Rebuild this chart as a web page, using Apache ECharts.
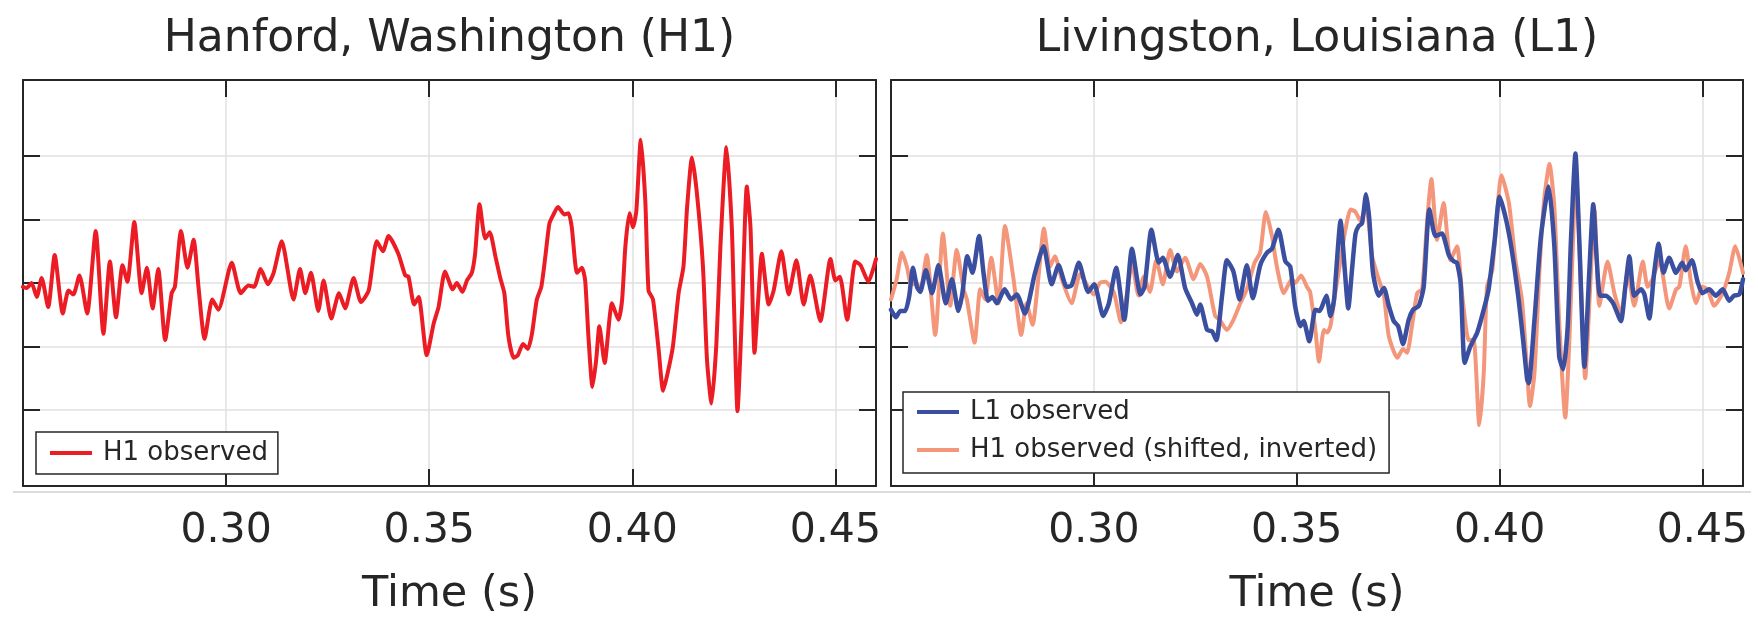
<!DOCTYPE html>
<html>
<head>
<meta charset="utf-8">
<script src="https://cdn.jsdelivr.net/npm/echarts@6/dist/echarts.min.js"></script>
<style>
html,body{margin:0;padding:0;background:#fff;}
#chart{width:1758px;height:629px;}
</style>
</head>
<body>
<div id="chart"></div>
<script>
// ---- data (strain, arbitrary units x1e-21) ----
const panelTitles = ['Hanford, Washington (H1)', 'Livingston, Louisiana (L1)'];
const xAxisTitle = 'Time (s)';
const xTicks = [0.30, 0.35, 0.40, 0.45];
const yTicks = [-1.0, -0.5, 0.0, 0.5, 1.0];
const seriesNames = ['H1 observed', 'L1 observed', 'H1 observed (shifted, inverted)'];

const h1Time = [0.2500,0.2509,0.2521,0.2534,0.2546,0.2562,0.2578,0.2598,0.2612,0.2624,
0.2639,0.2658,0.2679,0.2698,0.2714,0.2729,0.2745,0.2757,0.2774,0.2792,
0.2805,0.2819,0.2833,0.2850,0.2866,0.2874,0.2889,0.2905,0.2920,0.2932,
0.2947,0.2966,0.2981,0.3014,0.3036,0.3055,0.3069,0.3085,0.3103,0.3117,
0.3137,0.3166,0.3182,0.3195,0.3209,0.3227,0.3240,0.3259,0.3278,0.3293,
0.3314,0.3332,0.3351,0.3371,0.3386,0.3400,0.3424,0.3441,0.3449,0.3463,
0.3474,0.3494,0.3511,0.3523,0.3539,0.3558,0.3568,0.3582,0.3593,0.3605,
0.3613,0.3624,0.3638,0.3649,0.3663,0.3675,0.3685,0.3695,0.3708,0.3718,
0.3731,0.3743,0.3753,0.3765,0.3776,0.3786,0.3796,0.3806,0.3817,0.3833,
0.3843,0.3851,0.3864,0.3876,0.3884,0.3892,0.3902,0.3911,0.3919,0.3932,
0.3950,0.3966,0.3975,0.3983,0.3993,0.4002,0.4010,0.4021,0.4032,0.4040,
0.4051,0.4065,0.4076,0.4087,0.4100,0.4114,0.4126,0.4135,0.4147,0.4159,
0.4174,0.4184,0.4195,0.4207,0.4217,0.4232,0.4245,0.4251,0.4259,0.4270,
0.4282,0.4291,0.4301,0.4310,0.4319,0.4336,0.4348,0.4367,0.4385,0.4404,
0.4422,0.4438,0.4463,0.4488,0.4500,0.4511,0.4529,0.4549,0.4562,0.4581,
0.4600];
const h1Strain = [-0.03,-0.04,0.00,-0.11,0.04,-0.19,0.22,-0.24,-0.06,-0.09,
0.06,-0.24,0.41,-0.40,0.17,-0.27,0.14,0.01,0.48,-0.08,
0.12,-0.20,0.11,-0.45,-0.08,-0.03,0.41,0.12,0.34,-0.03,
-0.44,-0.13,-0.21,0.16,-0.08,-0.02,-0.03,0.11,-0.01,0.08,
0.33,-0.13,0.11,-0.08,0.08,-0.22,0.02,-0.28,-0.08,-0.20,
0.04,-0.15,-0.06,0.33,0.25,0.37,0.23,0.06,0.05,-0.17,
-0.11,-0.57,-0.32,-0.19,0.09,-0.05,0.00,-0.07,0.02,0.08,
0.23,0.62,0.35,0.40,0.21,0.04,-0.08,-0.42,-0.59,-0.57,
-0.48,-0.52,-0.40,-0.13,-0.03,0.21,0.47,0.54,0.60,0.54,
0.55,0.44,0.08,0.12,0.02,-0.42,-0.82,-0.61,-0.34,-0.63,
-0.16,-0.29,-0.13,0.29,0.55,0.44,0.57,1.13,0.65,-0.06,
-0.13,-0.53,-0.85,-0.71,-0.50,-0.08,0.13,0.60,0.99,0.71,
0.13,-0.61,-0.95,-0.48,0.29,1.07,0.44,-0.24,-1.01,-0.24,
0.76,0.44,-0.55,-0.13,0.23,-0.17,-0.06,0.25,-0.09,0.18,
-0.17,0.06,-0.30,0.19,0.02,0.05,-0.29,0.17,0.14,0.01,
0.19];

const l1Time = [0.2500,0.2512,0.2523,0.2535,0.2545,0.2554,0.2564,0.2572,0.2586,0.2601,
0.2617,0.2635,0.2650,0.2666,0.2676,0.2688,0.2701,0.2717,0.2728,0.2739,
0.2750,0.2761,0.2780,0.2796,0.2810,0.2830,0.2855,0.2876,0.2896,0.2913,
0.2933,0.2945,0.2963,0.2986,0.3001,0.3023,0.3037,0.3055,0.3075,0.3094,
0.3115,0.3125,0.3142,0.3160,0.3170,0.3188,0.3207,0.3225,0.3242,0.3254,
0.3262,0.3279,0.3291,0.3302,0.3316,0.3328,0.3344,0.3359,0.3377,0.3392,
0.3410,0.3427,0.3439,0.3455,0.3472,0.3484,0.3496,0.3509,0.3517,0.3531,
0.3546,0.3556,0.3563,0.3573,0.3583,0.3592,0.3597,0.3608,0.3619,0.3627,
0.3637,0.3645,0.3653,0.3661,0.3671,0.3679,0.3688,0.3702,0.3715,0.3727,
0.3739,0.3750,0.3762,0.3776,0.3787,0.3801,0.3813,0.3827,0.3842,0.3858,
0.3875,0.3887,0.3895,0.3904,0.3914,0.3928,0.3945,0.3961,0.3973,0.3988,
0.4000,0.4016,0.4031,0.4047,0.4058,0.4068,0.4072,0.4086,0.4102,0.4121,
0.4135,0.4147,0.4157,0.4168,0.4176,0.4187,0.4197,0.4209,0.4221,0.4231,
0.4239,0.4248,0.4262,0.4280,0.4299,0.4310,0.4320,0.4332,0.4349,0.4357,
0.4369,0.4381,0.4392,0.4404,0.4418,0.4435,0.4450,0.4459,0.4474,0.4488,
0.4500,0.4517,0.4533,0.4550,0.4566,0.4578,0.4591,0.4600];
const l1Strain = [-0.21,-0.27,-0.22,-0.22,-0.10,0.12,-0.03,-0.07,0.10,-0.08,
0.14,-0.16,0.03,-0.22,-0.08,0.21,0.08,0.37,0.08,-0.14,
-0.11,-0.16,-0.05,-0.13,-0.09,-0.24,0.08,0.29,-0.01,0.14,
-0.03,-0.02,0.16,-0.07,-0.01,-0.26,-0.16,0.12,-0.29,0.27,
-0.09,-0.03,0.42,0.16,0.20,0.05,0.22,-0.04,-0.16,-0.25,
-0.17,-0.37,-0.38,-0.45,-0.10,0.18,0.09,-0.13,0.14,-0.12,
0.14,0.24,0.27,0.42,0.17,0.13,-0.18,-0.34,-0.30,-0.46,
-0.21,-0.22,-0.18,-0.10,-0.26,-0.13,0.08,0.49,0.08,-0.20,
0.13,0.39,0.45,0.47,0.70,0.50,0.08,-0.10,-0.04,-0.18,
-0.30,-0.34,-0.48,-0.29,-0.21,-0.18,-0.03,0.58,0.37,0.39,
0.22,0.17,0.16,0.00,-0.63,-0.50,-0.39,-0.21,-0.05,0.34,
0.68,0.50,0.24,-0.13,-0.45,-0.76,-0.79,-0.29,0.37,0.76,
0.29,-0.58,-0.68,-0.34,0.34,1.02,0.29,-0.66,0.08,0.62,
0.21,-0.10,-0.10,-0.16,-0.30,-0.03,0.21,-0.10,-0.05,-0.09,
-0.28,0.08,0.31,0.08,0.20,0.08,0.16,0.10,0.18,0.01,
-0.08,-0.05,-0.10,-0.05,-0.14,-0.10,-0.09,0.03];

const h1sTime = [0.2500,0.2514,0.2527,0.2539,0.2550,0.2564,0.2572,0.2588,0.2609,0.2628,
0.2646,0.2662,0.2679,0.2687,0.2706,0.2720,0.2732,0.2747,0.2765,0.2781,
0.2802,0.2821,0.2834,0.2849,0.2862,0.2877,0.2892,0.2904,0.2921,0.2945,
0.2966,0.2982,0.2999,0.3015,0.3028,0.3049,0.3067,0.3082,0.3094,0.3110,
0.3123,0.3138,0.3154,0.3170,0.3188,0.3205,0.3225,0.3246,0.3262,0.3279,
0.3299,0.3310,0.3328,0.3344,0.3361,0.3377,0.3396,0.3410,0.3424,0.3439,
0.3451,0.3468,0.3488,0.3496,0.3511,0.3525,0.3533,0.3546,0.3555,0.3567,
0.3575,0.3583,0.3594,0.3608,0.3620,0.3633,0.3645,0.3657,0.3671,0.3686,
0.3702,0.3715,0.3727,0.3748,0.3762,0.3772,0.3784,0.3797,0.3809,0.3821,
0.3832,0.3846,0.3862,0.3879,0.3895,0.3908,0.3924,0.3936,0.3950,0.3961,
0.3969,0.3982,0.4005,0.4023,0.4039,0.4055,0.4066,0.4075,0.4086,0.4098,
0.4110,0.4123,0.4135,0.4147,0.4162,0.4172,0.4184,0.4188,0.4201,0.4211,
0.4223,0.4234,0.4246,0.4266,0.4283,0.4299,0.4316,0.4332,0.4353,0.4365,
0.4377,0.4394,0.4418,0.4435,0.4443,0.4459,0.4472,0.4484,0.4500,0.4513,
0.4529,0.4550,0.4566,0.4581,0.4600];
const h1sStrain = [-0.13,0.03,0.24,0.13,-0.01,0.00,-0.07,0.22,-0.41,0.39,
-0.18,0.26,-0.05,-0.13,-0.47,-0.05,-0.13,0.20,-0.16,0.45,
0.03,-0.41,-0.16,-0.33,0.00,0.43,0.13,0.21,0.03,-0.16,
0.07,-0.01,-0.09,0.00,0.01,-0.07,-0.31,-0.08,0.16,-0.10,
0.05,-0.07,0.18,-0.01,0.26,0.09,0.20,0.03,0.15,0.05,
-0.26,-0.29,-0.37,-0.29,-0.16,-0.05,0.16,0.24,0.56,0.37,
0.13,-0.08,0.03,0.00,0.06,-0.03,-0.07,-0.37,-0.62,-0.37,
-0.39,-0.34,-0.10,0.18,0.42,0.58,0.56,0.49,0.60,0.21,
0.03,-0.10,-0.42,-0.59,-0.52,-0.55,-0.34,-0.08,-0.05,0.47,
0.82,0.34,0.63,0.18,0.29,-0.10,-0.45,-0.45,-1.12,-0.71,
-0.03,0.10,0.85,0.63,0.18,-0.13,-0.60,-0.97,-0.71,0.08,
0.66,0.94,0.60,-0.31,-1.06,-0.45,0.60,0.87,-0.05,-0.75,
-0.05,0.58,-0.18,0.17,-0.08,-0.24,0.08,-0.18,0.17,-0.03,
0.03,0.18,-0.20,-0.05,-0.03,0.29,0.00,-0.16,-0.03,-0.05,
-0.18,-0.08,0.08,0.29,0.08];

const xMin = 0.25, xMax = 0.46, yMin = -1.6, yMax = 1.6;

function pairs(t, v) { const n = Math.min(t.length, v.length); const out = []; for (let i = 0; i < n; i++) out.push([t[i], v[i]]); return out; }

const FONT = 'DejaVu Sans';
const INK = '#262626';
const COLORS = { h1: '#ec1c24', l1: '#3a4fa0', h1s: '#f4967a' };

const chart = echarts.init(document.getElementById('chart'), null, { renderer: 'canvas' });

const grids = [
  { left: 23, top: 80, width: 853, height: 406 },
  { left: 891, top: 80, width: 852, height: 406 }
];

function xAxes(gi) {
  return [
    { type: 'value', gridIndex: gi, position: 'bottom', min: xMin, max: xMax,
      name: xAxisTitle, nameLocation: 'middle', nameGap: 87,
      nameTextStyle: { fontFamily: FONT, fontSize: 43, color: INK, lineHeight: 43 },
      axisLine: { show: true, onZero: false, lineStyle: { color: INK, width: 2 } },
      axisTick: { show: true, inside: true, length: 17, customValues: xTicks, lineStyle: { color: INK, width: 2 } },
      axisLabel: { show: true, customValues: xTicks, margin: 24, fontFamily: FONT, fontSize: 41, lineHeight: 42, color: INK,
                   formatter: v => v.toFixed(2) },
      splitLine: { show: true, lineStyle: { color: '#e0e0e0', width: 1.5 } } },
    { type: 'value', gridIndex: gi, position: 'top', min: xMin, max: xMax,
      axisLine: { show: true, onZero: false, lineStyle: { color: INK, width: 2 } },
      axisTick: { show: true, inside: true, length: 17, customValues: xTicks, lineStyle: { color: INK, width: 2 } },
      axisLabel: { show: false }, splitLine: { show: false } }
  ];
}
function yAxes(gi) {
  return [
    { type: 'value', gridIndex: gi, position: 'left', min: yMin, max: yMax,
      axisLine: { show: true, onZero: false, lineStyle: { color: INK, width: 2 } },
      axisTick: { show: true, inside: true, length: 17, customValues: yTicks, lineStyle: { color: INK, width: 2 } },
      axisLabel: { show: false },
      splitLine: { show: true, lineStyle: { color: '#e0e0e0', width: 1.5 } } },
    { type: 'value', gridIndex: gi, position: 'right', min: yMin, max: yMax,
      axisLine: { show: true, onZero: false, lineStyle: { color: INK, width: 2 } },
      axisTick: { show: true, inside: true, length: 17, customValues: yTicks, lineStyle: { color: INK, width: 2 } },
      axisLabel: { show: false }, splitLine: { show: false } }
  ];
}

function lineSeries(name, data, xi, yi, color, width, z) {
  return { name, type: 'line', xAxisIndex: xi, yAxisIndex: yi, data, symbol: 'none', smooth: 0.2,
           clip: true, z, animation: false,
           itemStyle: { color }, lineStyle: { color, width, join: 'round', cap: 'round' } };
}

const legendCommon = {
  backgroundColor: '#ffffff', borderColor: INK, borderWidth: 1.5, borderRadius: 0,
  icon: 'rect', itemWidth: 42, itemHeight: 4, orient: 'vertical', selectedMode: false,
  textStyle: { fontFamily: FONT, fontSize: 26, lineHeight: 26, color: INK, padding: [0, 0, 0, 6] }
};

const option = {
  backgroundColor: '#ffffff',
  animation: false,
  title: [
    { text: panelTitles[0], left: 449.5, top: 18, textAlign: 'center', padding: 0,
      textStyle: { fontFamily: FONT, fontSize: 44, fontWeight: 'normal', color: INK, lineHeight: 44 } },
    { text: panelTitles[1], left: 1317, top: 18, textAlign: 'center', padding: 0,
      textStyle: { fontFamily: FONT, fontSize: 44, fontWeight: 'normal', color: INK, lineHeight: 44 } }
  ],
  legend: [
    Object.assign({}, legendCommon, { data: [seriesNames[0]], left: 36, top: 432, padding: [8, 10, 8, 14] }),
    Object.assign({}, legendCommon, { data: [seriesNames[1], seriesNames[2]], left: 903, top: 392, padding: [7, 12, 10, 14], itemGap: 12 })
  ],
  grid: grids,
  xAxis: [...xAxes(0), ...xAxes(1)],
  yAxis: [...yAxes(0), ...yAxes(1)],
  series: [
    lineSeries(seriesNames[0], pairs(h1Time, h1Strain), 0, 0, COLORS.h1, 4, 3),
    lineSeries(seriesNames[2], pairs(h1sTime, h1sStrain), 2, 2, COLORS.h1s, 4, 3),
    lineSeries(seriesNames[1], pairs(l1Time, l1Strain), 2, 2, COLORS.l1, 4.5, 4)
  ],
  graphic: [
    { type: 'line', shape: { x1: 13, y1: 492, x2: 1751, y2: 492 }, style: { stroke: '#dcdcdc', lineWidth: 2 }, z: 0 }
  ]
};
chart.setOption(option);
</script>
</body>
</html>
